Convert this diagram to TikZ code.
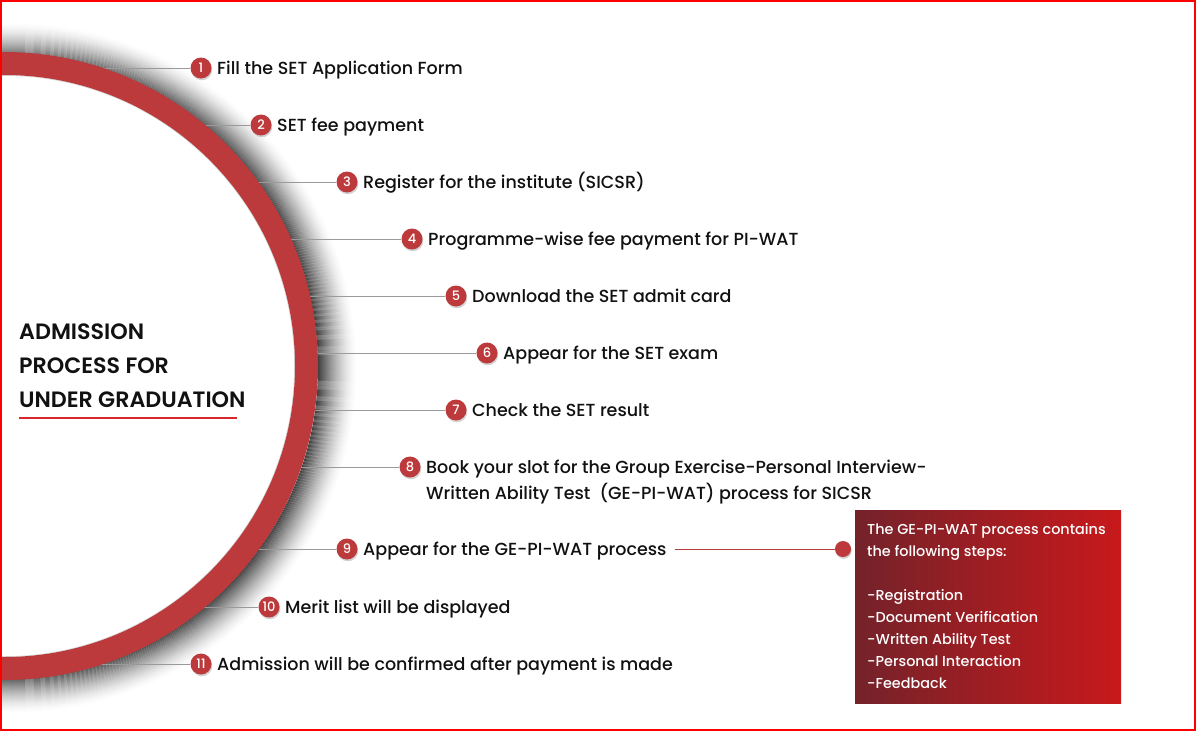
\documentclass[tikz,border=0pt]{standalone}
\usepackage{fontspec}
\setmainfont{Poppins}
\newfontfamily\pmed{Poppins Medium}
\newfontfamily\psemi{Poppins SemiBold}
\usetikzlibrary{shadows,calc}
\definecolor{ringred}{HTML}{BD3A3C}
\definecolor{boxdark}{HTML}{74222A}
\definecolor{boxred}{HTML}{C8191B}
\definecolor{linegray}{HTML}{9A9A9A}
\definecolor{txt}{HTML}{111111}
\definecolor{framered}{HTML}{FF0000}
\definecolor{ulred}{HTML}{D9272E}
\pgfdeclarelayer{shadowL}
\pgfdeclarelayer{lineL}
\pgfdeclarelayer{ringL}
\pgfsetlayers{shadowL,lineL,ringL,main}
\begin{document}
\begin{tikzpicture}[x=1pt,y=-1pt,
  numdot/.style={circle, fill=ringred, minimum size=21pt, inner sep=0pt, text=white,
    font=\pmed\fontsize{13}{13}\selectfont,
    drop shadow={shadow xshift=0.8pt, shadow yshift=-1.8pt, opacity=0.35}},
  steptext/.style={anchor=base west, inner sep=0pt, text=txt, font=\pmed\fontsize{17.5}{17.5}\selectfont},
  titletext/.style={anchor=base west, inner sep=0pt, text=txt, font=\psemi\fontsize{22.2}{22.2}\selectfont},
  conn/.style={draw=linegray, line width=1pt},
  boxtext/.style={anchor=north west, inner sep=0pt, align=left, text=white, font=\pmed\fontsize{14.4}{22}\selectfont},
  enddot/.style={circle, fill=ringred, minimum size=16pt, inner sep=0pt,
    drop shadow={shadow xshift=0.8pt, shadow yshift=-1.8pt, opacity=0.35}},
]
\useasboundingbox (0,0) rectangle (1196,731);
\coordinate (C) at (4,366);
\coordinate (S) at (12,368);

% ring shadow
\begin{pgfonlayer}{shadowL}
\fill[white] (0,0) rectangle (1196,731);
\foreach \k in {0,...,39}{
  \pgfmathsetmacro\op{0.72*(1-\k/40)^1.7}
  \pgfmathsetmacro\ra{306+\k}
  \pgfmathsetmacro\rb{307+\k}
  \fill[black, opacity=\op, even odd rule] (S) circle[radius=\ra pt] (S) circle[radius=\rb pt];
}
\end{pgfonlayer}

% ring
\begin{pgfonlayer}{ringL}
\fill[white] (C) circle[radius=300pt];
\draw[ringred, line width=23pt] (C) circle[radius=302.5pt];
\draw[black, opacity=0.15, line width=0.8pt] (C) circle[radius=290.6pt];
\end{pgfonlayer}

% steps
\foreach \i/\y/\cx/\txt in {
 1/68/201/{Fill the SET Application Form},
 2/125/261/{SET fee payment},
 3/182/347/{Register for the institute (SICSR)},
 4/239/412/{Programme-wise fee payment for PI-WAT},
 5/296/456/{Download the SET admit card},
 6/353/487/{Appear for the SET exam},
 7/410/456/{Check the SET result},
 8/467/410/{Book your slot for the Group Exercise-Personal Interview-},
 9/549/347/{Appear for the GE-PI-WAT process},
 10/607/269/{Merit list will be displayed},
 11/664/201/{Admission will be confirmed after payment is made}}{
  \pgfmathsetmacro\rx{4+10*sqrt(985.96-((\y-366)/10)^2)-8}
  \coordinate (r\i) at (\rx,\y);
  \node[numdot] (n\i) at (\cx,\y) {\i};
  \begin{pgfonlayer}{lineL}
  \draw[conn] (r\i) -- (n\i.west);
  \end{pgfonlayer}
  \node[steptext] (t\i) at (\cx+16,\y+6) {\txt};
}
\node[steptext] (t8b) at ($(t8.base west)+(0,26)$) {Written Ability Test\ \ (GE-PI-WAT) process for SICSR};

% title
\node[titletext] (ti1) at (19,339.5) {ADMISSION};
\node[titletext] (ti2) at (19,373.5) {PROCESS FOR};
\node[titletext] (ti3) at (19,407.5) {UNDER GRADUATION};
\coordinate (u1) at (19,418);
\coordinate (u2) at (237,418);
\draw[ulred, line width=1.2pt] (u1) -- (u2);

% GE-PI-WAT box
\node[anchor=north west, minimum width=266pt, minimum height=193pt, inner sep=0pt,
      left color=boxdark, right color=boxred, draw=none] (box) at (855,510) {};
\node[boxtext] (boxtxt) at (867,523) {The GE-PI-WAT process contains\\the following steps:\\[22pt]-Registration\\-Document Verification\\-Written Ability Test\\-Personal Interaction\\-Feedback};
\node[enddot] (dot) at (843,549) {};
\draw[ringred, line width=1pt] ([xshift=8pt]t9.east |- dot) -- (dot);

% frame
\draw[framered, line width=2pt] (1,1) rectangle (1195,730);
\end{tikzpicture}
\end{document}
